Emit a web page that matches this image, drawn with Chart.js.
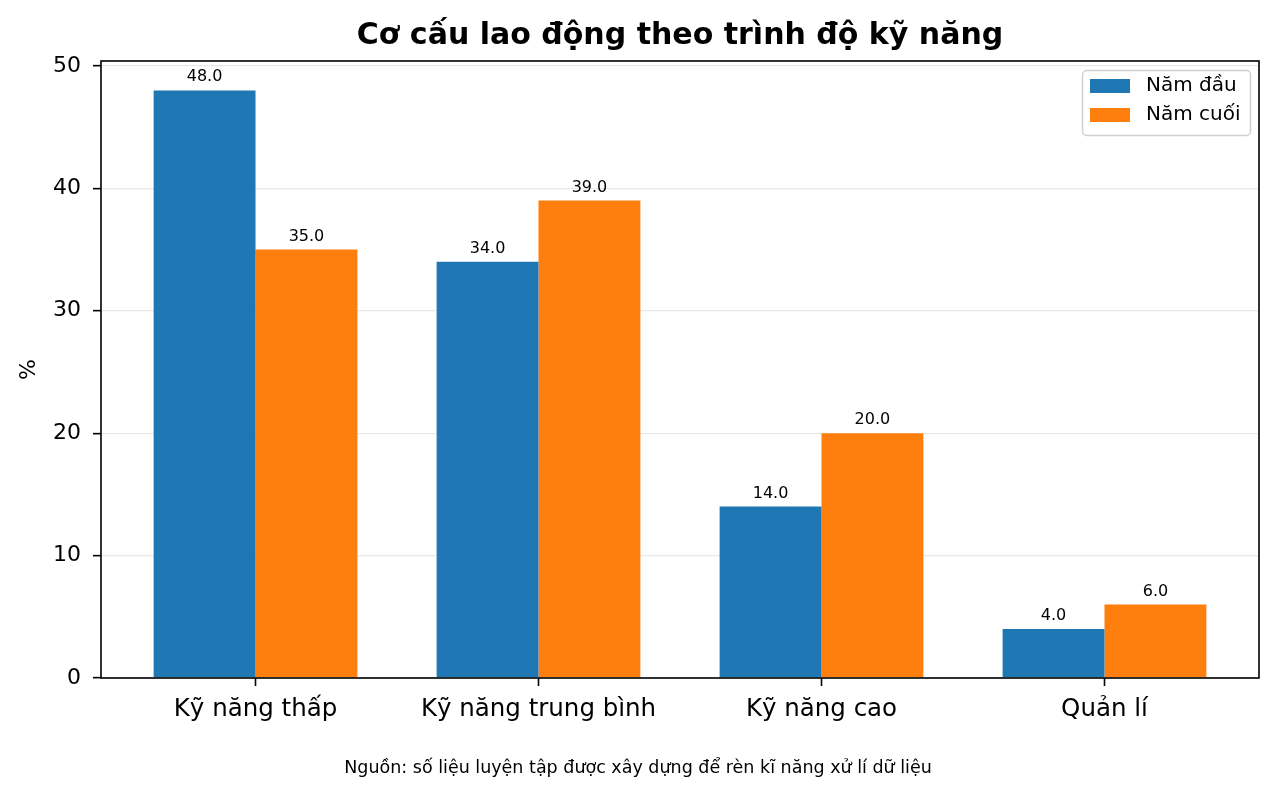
<!DOCTYPE html>
<html>
<head>
<meta charset="utf-8">
<script src="https://cdn.jsdelivr.net/npm/chart.js@4"></script>
<style>
html,body{margin:0;padding:0;background:#fff;}
#wrap{width:1276px;height:795px;position:relative;}
</style>
</head>
<body>
<div id="wrap"><canvas id="c" width="1276" height="795"></canvas></div>
<script>
const categories = ["Kỹ năng thấp", "Kỹ năng trung bình", "Kỹ năng cao", "Quản lí"];
const seriesNames = ["Năm đầu", "Năm cuối"];
const firstYear = [48, 34, 14, 4];
const lastYear = [35, 39, 20, 6];
const yTicks = [0, 10, 20, 30, 40, 50];
const titleText = "Cơ cấu lao động theo trình độ kỹ năng";
const sourceText = "Nguồn: số liệu luyện tập được xây dựng để rèn kĩ năng xử lí dữ liệu";
const colors = ["#1f77b4", "#ff7f0e"];
const FONT = "'DejaVu Sans', sans-serif";

const toPoints = arr => arr.map((v, i) => ({x: i, y: v}));

const frameAndExtras = {
  id: 'frameAndExtras',
  afterDatasetsDraw(chart) {
    const ctx = chart.ctx;
    const a = chart.chartArea;
    ctx.save();
    // value labels
    ctx.font = "16px " + FONT;
    ctx.fillStyle = "#000";
    ctx.textAlign = "center";
    ctx.textBaseline = "alphabetic";
    chart.data.datasets.forEach((ds, di) => {
      const meta = chart.getDatasetMeta(di);
      meta.data.forEach((el, i) => {
        ctx.fillText(ds.data[i].y.toFixed(1), el.x, el.y - 9);
      });
    });
    // frame
    ctx.strokeStyle = "#000";
    ctx.lineWidth = 1.6;
    ctx.strokeRect(a.left, a.top, a.right - a.left, a.bottom - a.top);
    // legend
    const lx = a.right - 177, ly = a.top + 9, lw = 168, lh = 65;
    ctx.fillStyle = "rgba(255,255,255,0.8)";
    ctx.strokeStyle = "#d0d0d0";
    ctx.lineWidth = 1.5;
    ctx.beginPath();
    ctx.roundRect(lx + 0.5, ly + 0.5, lw, lh, 4);
    ctx.fill();
    ctx.stroke();
    ctx.font = "20px " + FONT;
    ctx.textAlign = "left";
    ctx.textBaseline = "middle";
    chart.data.datasets.forEach((ds, di) => {
      const y = ly + 9 + di * 29;
      ctx.fillStyle = ds.backgroundColor;
      ctx.fillRect(lx + 8, y, 40, 14);
      ctx.fillStyle = "#000";
      ctx.fillText(ds.label, lx + 64, y + 7);
    });
    // title
    ctx.font = "bold 30px " + FONT;
    ctx.textAlign = "center";
    ctx.textBaseline = "alphabetic";
    ctx.fillText(titleText, (a.left + a.right) / 2, 44);
    // source
    ctx.font = "17.5px " + FONT;
    ctx.fillText(sourceText, chart.width / 2, 773);
    ctx.restore();
  }
};

new Chart(document.getElementById('c'), {
  type: 'bar',
  data: {
    datasets: [
      {label: seriesNames[0], data: toPoints(firstYear), backgroundColor: colors[0], categoryPercentage: 0.72, barPercentage: 1.0},
      {label: seriesNames[1], data: toPoints(lastYear), backgroundColor: colors[1], categoryPercentage: 0.72, barPercentage: 1.0}
    ]
  },
  options: {
    responsive: false,
    animation: false,
    devicePixelRatio: 1,
    layout: {padding: {left: 0, right: 17, top: 61, bottom: 0}},
    plugins: {legend: {display: false}, title: {display: false}, tooltip: {enabled: false}},
    scales: {
      x: {
        type: 'linear',
        min: -0.546,
        max: 3.546,
        offset: false,
        afterBuildTicks: s => { s.ticks = categories.map((c, i) => ({value: i})); },
        afterFit: s => { s.height = 795 - 678; },
        grid: {display: true, offset: false, drawOnChartArea: false, drawTicks: true, tickLength: 8, tickColor: "#000", tickWidth: 1.6},
        border: {display: false},
        ticks: {
          callback: v => categories[v],
          color: "#000",
          font: {family: FONT, size: 24.5},
          padding: 9,
          maxRotation: 0,
          autoSkip: false
        }
      },
      y: {
        min: 0,
        max: 50.4,
        afterBuildTicks: s => { s.ticks = yTicks.map(v => ({value: v})); },
        afterFit: s => { s.width = 101; },
        grid: {color: "rgba(0,0,0,0.09)", lineWidth: 1.3, tickColor: "#000", tickLength: 8, tickWidth: 1.6},
        border: {display: false},
        ticks: {color: "#000", font: {family: FONT, size: 22}, padding: 12},
        title: {display: true, text: "%", color: "#000", font: {family: FONT, size: 22}, padding: {top: 16, bottom: 0}}
      }
    }
  },
  plugins: [frameAndExtras]
});
</script>
</body>
</html>
